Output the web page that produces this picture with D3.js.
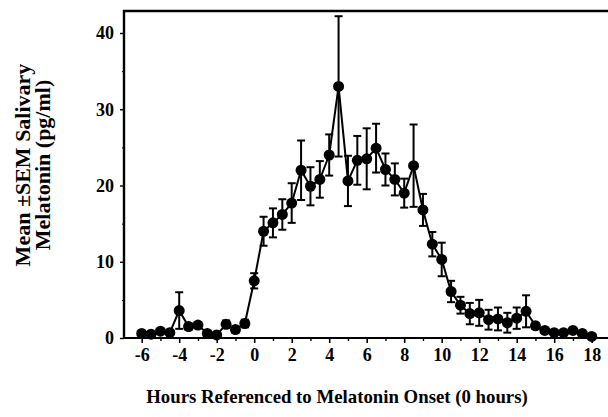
<!DOCTYPE html>
<html>
<head>
<meta charset="UTF-8">
<title>Salivary melatonin</title>
<script src="https://d3js.org/d3.v7.min.js"></script>
<style>
  body { margin: 0; background: #fff; }
  svg text { font-family: "Liberation Serif", "DejaVu Serif", serif; fill: #000; }
</style>
</head>
<body>
<svg id="chart"></svg>
<script>
// half-hour samples relative to melatonin onset
const hours = [-6, -5.5, -5, -4.5, -4, -3.5, -3, -2.5, -2, -1.5, -1, -0.5,
               0, 0.5, 1, 1.5, 2, 2.5, 3, 3.5, 4, 4.5, 5, 5.5,
               6, 6.5, 7, 7.5, 8, 8.5, 9, 9.5, 10, 10.5, 11, 11.5,
               12, 12.5, 13, 13.5, 14, 14.5, 15, 15.5, 16, 16.5, 17, 17.5, 18];
const melatonin = [0.6, 0.5, 0.9, 0.7, 3.6, 1.5, 1.7, 0.6, 0.4, 1.8, 1.1, 1.9,
                   7.5, 14.0, 15.1, 16.2, 17.7, 22.0, 19.9, 20.8, 24.0, 33.0, 20.6, 23.3,
                   23.5, 24.9, 22.1, 20.8, 19.0, 22.6, 16.8, 12.3, 10.3, 6.1, 4.3, 3.2,
                   3.3, 2.4, 2.5, 2.0, 2.6, 3.5, 1.6, 1.0, 0.7, 0.7, 1.0, 0.6, 0.2];
const sem = [0.3, 0.2, 0.3, 0.3, 2.4, 0.4, 0.4, 0.3, 0.2, 0.5, 0.4, 0.5,
             1.0, 1.9, 1.9, 2.0, 2.6, 3.9, 2.5, 2.4, 2.7, 9.2, 3.3, 3.2,
             4.0, 3.2, 2.1, 2.1, 1.9, 5.4, 2.1, 1.6, 2.2, 1.4, 1.1, 1.4,
             1.7, 1.3, 1.5, 1.3, 1.4, 2.1, 0.4, 0.3, 0.2, 0.2, 0.3, 0.2, 0.1];

const xTicks = [-6, -4, -2, 0, 2, 4, 6, 8, 10, 12, 14, 16, 18];
const xTickLabels = ["-6", "-4", "-2", "0", "2", "4", "6", "8", "10", "12", "14", "16", "18"];
const xMinorTicks = [-5, -3, -1, 1, 3, 5, 7, 9, 11, 13, 15, 17];
const yTicks = [0, 10, 20, 30, 40];
const yMinorTicks = [5, 15, 25, 35];

const width = 608, height = 417;
const plotLeft = 124, plotRight = 608, plotTop = 11, plotBottom = 338;

const x = d3.scaleLinear().domain([-6, 18]).range([141.7, 591.7]);
const y = d3.scaleLinear().domain([0, 40]).range([plotBottom, 33]);

const svg = d3.select("#chart")
    .attr("width", width)
    .attr("height", height);

// frame: top line + left axis + bottom axis
svg.append("path")
    .attr("d", `M${plotLeft},${plotBottom}V${plotTop}H${plotRight}`)
    .attr("fill", "none")
    .attr("stroke", "#000")
    .attr("stroke-width", 2.4);
svg.append("line")
    .attr("x1", plotLeft).attr("x2", plotRight)
    .attr("y1", plotBottom).attr("y2", plotBottom)
    .attr("stroke", "#000")
    .attr("stroke-width", 2.2);

// x axis
const xAxis = svg.append("g")
    .attr("transform", `translate(0,${plotBottom})`)
    .call(d3.axisBottom(x).tickValues(xTicks).tickSize(5).tickSizeOuter(0)
        .tickFormat((d, i) => xTickLabels[i]));
xAxis.select(".domain").remove();
xAxis.selectAll(".tick line").attr("stroke-width", 1.6);
xAxis.selectAll(".tick text")
    .attr("y", 10)
    .style("font-size", "18px")
    .style("font-weight", "bold")
    .style("font-family", "Liberation Serif");
svg.append("g")
    .attr("transform", `translate(0,${plotBottom})`)
    .call(d3.axisBottom(x).tickValues(xMinorTicks).tickSize(3).tickFormat(""))
    .call(g => g.select(".domain").remove())
    .selectAll(".tick line").attr("stroke-width", 1.4);

// y axis
const yAxis = svg.append("g")
    .attr("transform", `translate(${plotLeft},0)`)
    .call(d3.axisLeft(y).tickValues(yTicks).tickSize(4).tickSizeOuter(0));
yAxis.select(".domain").remove();
yAxis.selectAll(".tick line").attr("stroke-width", 1.4);
yAxis.selectAll(".tick text")
    .attr("x", -10)
    .style("font-size", "18px")
    .style("font-weight", "bold")
    .style("font-family", "Liberation Serif");
svg.append("g")
    .attr("transform", `translate(${plotLeft},0)`)
    .call(d3.axisLeft(y).tickValues(yMinorTicks).tickSize(2).tickFormat(""))
    .call(g => g.select(".domain").remove());

// error bars
const capW = 4;
const bars = svg.append("g").attr("stroke", "#000").attr("stroke-width", 2);
hours.forEach((h, i) => {
    const cx = x(h), top = y(melatonin[i] + sem[i]), bot = y(Math.max(0, melatonin[i] - sem[i]));
    bars.append("line").attr("x1", cx).attr("x2", cx).attr("y1", top).attr("y2", bot);
    bars.append("line").attr("x1", cx - capW).attr("x2", cx + capW).attr("y1", top).attr("y2", top);
    bars.append("line").attr("x1", cx - capW).attr("x2", cx + capW).attr("y1", bot).attr("y2", bot);
});

// mean line
const line = d3.line()
    .x((d, i) => x(hours[i]))
    .y(d => y(d));
svg.append("path")
    .datum(melatonin)
    .attr("d", line)
    .attr("fill", "none")
    .attr("stroke", "#000")
    .attr("stroke-width", 2);

svg.append("g")
    .selectAll("circle")
    .data(melatonin)
    .enter()
    .append("circle")
      .attr("cx", (d, i) => x(hours[i]))
      .attr("cy", d => y(d))
      .attr("r", 5.5)
      .attr("fill", "#000");

// axis titles
svg.append("text")
    .attr("x", 337)
    .attr("y", 403)
    .attr("text-anchor", "middle")
    .style("font-size", "18.8px")
    .style("font-weight", "bold")
    .text("Hours Referenced to Melatonin Onset (0 hours)");

const yTitle = svg.append("text")
    .attr("transform", "translate(0,165) rotate(-90)")
    .attr("text-anchor", "middle")
    .style("font-size", "22px")
    .style("font-weight", "bold");
yTitle.append("tspan").attr("x", 0).attr("y", 30).text("Mean \u00B1SEM Salivary");
yTitle.append("tspan").attr("x", 0).attr("y", 50).text("Melatonin (pg/ml)");
</script>
</body>
</html>
